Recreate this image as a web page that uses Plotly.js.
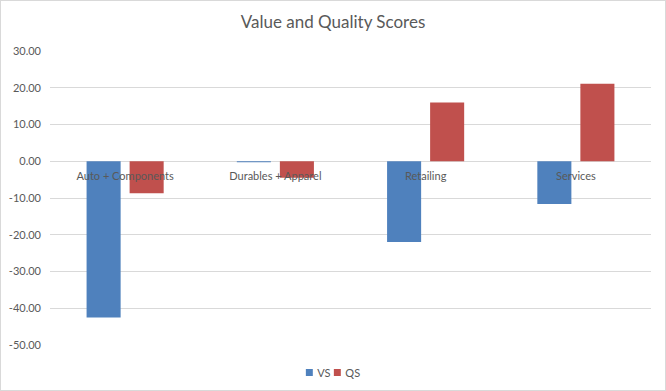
<!DOCTYPE html>
<html>
<head>
<meta charset="utf-8">
<script src="https://cdn.plot.ly/plotly-3.0.1.min.js"></script>
<style>
html,body{margin:0;padding:0;background:#fff;}
#chart{width:664px;height:389px;border:1px solid #d9d9d9;}
</style>
</head>
<body>
<div id="chart"></div>
<script>
const categories = ["Auto + Components", "Durables + Apparel", "Retailing", "Services"];
const vsValues = [-42.5, -0.3, -22.0, -11.6];
const qsValues = [-8.7, -4.5, 16.0, 21.1];
const yTicks = [30, 20, 10, 0, -10, -20, -30, -40, -50];

const yMin = -50, yMax = 30;
const font = "Lato, 'Open Sans', 'Liberation Sans', sans-serif";
const textColor = "#595959";

const traces = [
  {type: "bar", name: "VS", x: categories, y: vsValues, marker: {color: "#4F81BD"}},
  {type: "bar", name: "QS", x: categories, y: qsValues, marker: {color: "#C0504D"}}
];

const layout = {
  width: 664, height: 389,
  margin: {l: 49, r: 14, t: 50, b: 45, pad: 0, autoexpand: false},
  paper_bgcolor: "#fff", plot_bgcolor: "#fff",
  font: {family: font, size: 11, color: textColor},
  title: {text: "Value and Quality Scores", font: {family: font, size: 17, color: textColor}, x: 0.5, xanchor: "center", y: 0.945, yanchor: "middle"},
  barmode: "group", bargap: 0.427, bargroupgap: 0.209,
  xaxis: {
    type: "category",
    anchor: "free",
    position: (0 - yMin) / (yMax - yMin),
    showgrid: false, zeroline: false, showline: false,
    ticks: "", ticklabelstandoff: 7,
    tickfont: {family: font, size: 11, color: textColor},
    automargin: false,
    fixedrange: true
  },
  yaxis: {
    range: [yMin, yMax],
    tickvals: yTicks,
    ticktext: yTicks.map(v => v.toFixed(2)),
    showgrid: true, gridcolor: "#d9d9d9", gridwidth: 1,
    zeroline: true, zerolinecolor: "#d9d9d9", zerolinewidth: 1,
    showline: false, ticks: "", ticklabelstandoff: 8,
    tickfont: {family: font, size: 11, color: textColor},
    automargin: false,
    fixedrange: true
  },
  showlegend: true,
  legend: {orientation: "h", x: 0.5, xanchor: "center", yref: "container", y: 0.045, yanchor: "middle",
    font: {family: font, size: 11, color: textColor}, itemwidth: 30, entrywidth: 22, entrywidthmode: "pixels", traceorder: "normal"}
};

Plotly.newPlot("chart", traces, layout, {displayModeBar: false, staticPlot: true}).then(gd => {
  // compact Excel-like legend: small square swatches, tight spacing
  const items = [...gd.querySelectorAll(".legend .traces")];
  const ys = items.map(g => {
    const m = /translate\(\s*([-\d.]+)[ ,]+([-\d.]+)\s*\)/.exec(g.getAttribute("transform") || "");
    return m ? parseFloat(m[2]) : 0;
  });
  items.forEach((g, i) => {
    const p = g.querySelector(".legendpoints path");
    if (p) p.setAttribute("transform", "translate(4,0) scale(0.58)");
    const t = g.querySelector(".legendtext");
    if (t) t.setAttribute("x", 12);
    g.setAttribute("transform", `translate(${i * 28},${ys[i]})`);
  });
  let minX = Infinity, maxX = -Infinity;
  items.forEach(g => {
    g.querySelectorAll(".legendpoints path, .legendtext").forEach(el => {
      const r = el.getBoundingClientRect();
      minX = Math.min(minX, r.left); maxX = Math.max(maxX, r.right);
    });
  });
  const cr = gd.getBoundingClientRect();
  const dx = (cr.left + 333) - (minX + maxX) / 2;
  items.forEach((g, i) => g.setAttribute("transform", `translate(${i * 28 + dx},${ys[i]})`));
});
</script>
</body>
</html>
